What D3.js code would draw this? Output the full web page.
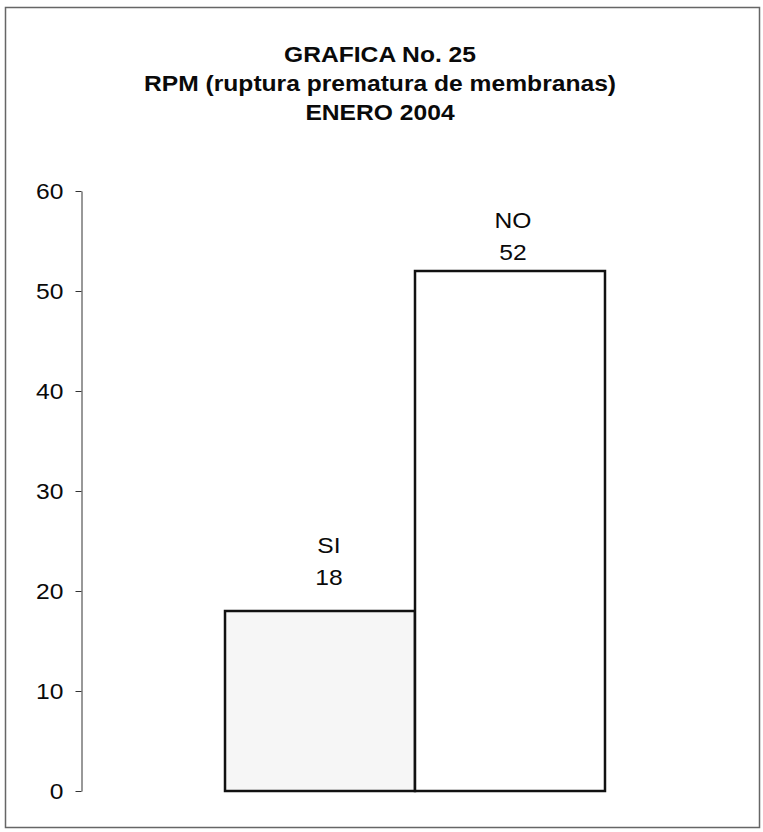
<html>
<head>
<script src="https://d3js.org/d3.v7.min.js"></script>
<style>
body { margin: 0; background: #fff; }
text { font-family: "Liberation Sans", Arial, sans-serif; fill: #0a0a0a; }
</style>
</head>
<body>
<div id="plot"></div>
<script>

var titleLines = ["GRAFICA No. 25", "RPM (ruptura prematura de membranas)", "ENERO 2004"];
var categories = ["SI", "NO"];
var values = [18, 52];
var yTicks = [0, 10, 20, 30, 40, 50, 60];
var barFills = ["#f6f6f6", "#ffffff"];

var width = 763;
var height = 832;
var stretch = 1.12; // the scan is a bit wider than it is tall

var svg = d3.select("#plot").append("svg")
.attr("width", width).attr("height", height);

// outer frame
svg.append("rect")
.attr("x", 5.5).attr("y", 7.5)
.attr("width", 754).attr("height", 820)
.style("fill", "none").style("stroke", "#666").style("stroke-width", 1.5);

// title
svg.selectAll("text.title").data(titleLines).enter()
.append("text").attr("class", "title")
.attr("transform", function (d, i) { return "translate(380," + (62 + i * 29) + ") scale(" + stretch + ",1)"; })
.attr("text-anchor", "middle")
.style("font-weight", "bold").style("font-size", "22px")
.text(function (d) { return d; });

var yScale = d3.scaleLinear().domain([0, 60]).range([791, 191]);
var xScale = d3.scaleBand().domain(categories).range([81, 749])
.paddingInner(0).paddingOuter(0.758);

var yAxis = d3.axisLeft(yScale).tickValues(yTicks).tickSize(6).tickSizeOuter(0).tickPadding(12);
var axisG = svg.append("g").attr("transform", "translate(81.5,0)").call(yAxis);
axisG.select(".domain").style("stroke", "#333");
axisG.selectAll(".tick line").style("stroke", "#333");
axisG.selectAll(".tick text")
.attr("x", -18 / stretch)
.attr("transform", "scale(" + stretch + ",1)")
.style("font-size", "22px").style("fill", "#0a0a0a")
.style("font-family", "'Liberation Sans', Arial, sans-serif");

var data = categories.map(function (c, i) { return { cat: c, value: values[i], fill: barFills[i] }; });

svg.selectAll("rect.bar").data(data).enter()
.append("rect").attr("class", "bar")
.attr("x", function (d) { return xScale(d.cat); })
.attr("y", function (d) { return yScale(d.value); })
.attr("width", xScale.bandwidth())
.attr("height", function (d) { return yScale(0) - yScale(d.value); })
.style("fill", function (d) { return d.fill; })
.style("stroke", "#111").style("stroke-width", 2.5);

// label placement as in the original sheet (shifted a little per bar)
var labelDx = [9, 3];
var labelGap = [26, 11];

var labels = svg.selectAll("g.label").data(data).enter().append("g").attr("class", "label")
.attr("transform", function (d, i) {
	return "translate(" + (xScale(d.cat) + xScale.bandwidth() / 2 + labelDx[i]) + "," + (yScale(d.value) - labelGap[i]) + ") scale(" + stretch + ",1)";
});
labels.append("text")
.attr("y", -32)
.attr("text-anchor", "middle").style("font-size", "22px")
.text(function (d) { return d.cat; });
labels.append("text")
.attr("y", 0)
.attr("text-anchor", "middle").style("font-size", "22px")
.text(function (d) { return d.value; });

</script>
</body>
</html>
